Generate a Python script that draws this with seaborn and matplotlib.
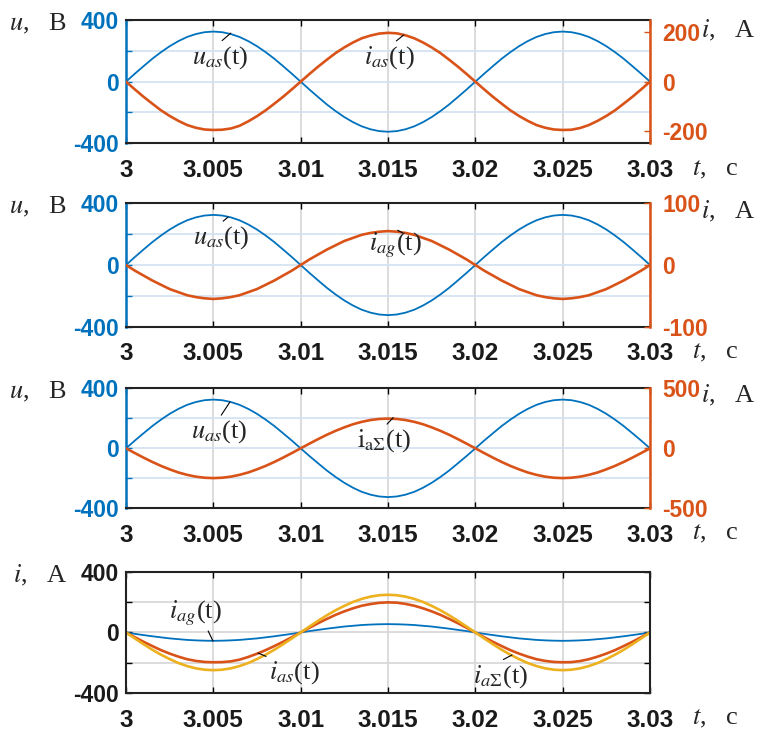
import numpy as np
import matplotlib
matplotlib.use("Agg")
import matplotlib.pyplot as plt
import seaborn as sns

sns.set_style("white")
plt.rcParams['font.family'] = ['Liberation Sans', 'DejaVu Sans']
plt.rcParams['mathtext.fontset'] = 'stix'

# ---------------- data ----------------
t = np.round(np.linspace(3.0, 3.03, 61), 5)

u_as = [0, 51, 100, 148, 191, 230, 263, 290, 309, 321, 325, 321, 309, 290, 263, 230, 191, 148, 100, 51,
        0, -51, -100, -148, -191, -230, -263, -290, -309, -321, -325, -321, -309, -290, -263, -230, -191, -148, -100, -51,
        0, 51, 100, 148, 191, 230, 263, 290, 309, 321, 325, 321, 309, 290, 263, 230, 191, 148, 100, 51, 0]

i_as = [0, -31, -61, -89, -116, -139, -159, -176, -187, -194, -196, -195, -190, -179, -161, -140, -116, -89, -61, -31,
        0, 31, 61, 89, 116, 139, 159, 176, 187, 195, 198, 196, 188, 176, 159, 139, 116, 89, 61, 31,
        0, -31, -61, -89, -116, -139, -159, -176, -187, -194, -196, -195, -188, -176, -159, -139, -116, -89, -61, -31, 0]

i_ag = [0, -9, -17, -25, -32, -39, -44, -49, -52, -54, -55, -54, -52, -49, -44, -39, -32, -25, -17, -9,
        0, 9, 17, 25, 32, 39, 44, 49, 52, 54, 55, 54, 52, 49, 44, 39, 32, 25, 17, 9,
        0, -9, -17, -25, -32, -39, -44, -49, -52, -54, -55, -54, -52, -49, -44, -39, -32, -25, -17, -9, 0]

i_aS = [0, -39, -77, -113, -146, -175, -201, -221, -236, -245, -248, -245, -236, -221, -201, -175, -146, -113, -77, -39,
        0, 39, 77, 113, 146, 175, 201, 221, 236, 245, 248, 245, 236, 221, 201, 175, 146, 113, 77, 39,
        0, -39, -77, -113, -146, -175, -201, -221, -236, -245, -248, -245, -236, -221, -201, -175, -146, -113, -77, -39, 0]

x_ticks = [3.0, 3.005, 3.01, 3.015, 3.02, 3.025, 3.03]
x_tick_labels = ['3', '3.005', '3.01', '3.015', '3.02', '3.025', '3.03']
u_ticks = [-400, -200, 0, 200, 400]
u_tick_labels = ['-400', '', '0', '', '400']

right_limits = [250, 100, 500]
right_ticks = [[-200, 0, 200], [-100, 0, 100], [-500, 0, 500]]
right_series = [i_as, i_ag, i_aS]

BLUE = '#0072BD'
ORANGE = '#D95319'
YELLOW = '#EDB120'
GRID_BLUE = '#d3e4f1'
GRID_GREY = '#d9d9d9'
SERIF = ['Liberation Serif', 'DejaVu Serif']
TICK_DARK = '#1a1a1a'

fig = plt.figure(figsize=(7.59, 7.33), dpi=100)
fig.patch.set_facecolor('white')

positions = [(0.166, 0.8045, 0.6904, 0.1682),
             (0.166, 0.5543, 0.6904, 0.1683),
             (0.166, 0.3065, 0.6904, 0.1637),
             (0.166, 0.0542, 0.6904, 0.1659)]


def style_x(ax):
    ax.set_xlim(3.0, 3.03)
    ax.set_xticks(x_ticks)
    ax.set_xticklabels(x_tick_labels, fontsize=17.5, fontweight='bold')
    ax.tick_params(axis='x', direction='in', top=True, bottom=True, length=4,
                   width=1, pad=11, colors='black', labelcolor=TICK_DARK)
    ax.set_xlabel('')
    ax.text(1.08, -0.215, r'$t$,   c', transform=ax.transAxes, ha='left',
            va='center', fontsize=19, family=SERIF)


def annotate(ax, text, xy, xytext, relpos, ref):
    ax.annotate(text, xy=xy, xytext=xytext, xycoords=ref.transData,
                textcoords=ref.transData, ha='center', va='center',
                fontsize=19, family=SERIF, zorder=10,
                arrowprops=dict(arrowstyle='-', color='black', lw=0.8,
                                shrinkA=0, shrinkB=0, relpos=relpos))


ann_top = [
    [(r'$u_{as}$(t)', (3.006, 315), (3.00538, 158), (0.47, 1.0)),
     (r'$i_{as}$(t)', (3.0159, 303), (3.0151, 156), (0.55, 1.0))],
    [(r'$u_{as}$(t)', (3.00584, 311), (3.00544, 176), (0.47, 1.0)),
     (r'$i_{ag}$(t)', (3.01586, 207), (3.0154, 130), (0.55, 1.0))],
    [(r'$u_{as}$(t)', (3.00595, 309), (3.00533, 110), (0.5, 1.0)),
     (r'$\mathrm{i}_{\mathrm{a}\Sigma}$(t)', (3.0153, 205), (3.01477, 50), (0.5, 1.0))],
]
ia_label_y = [0.86, 0.88, 0.88]

for k in range(3):
    ax1 = fig.add_axes(positions[k])
    sns.lineplot(x=t, y=u_as, ax=ax1, color=BLUE, linewidth=1.3)
    ax1.set_ylim(-400, 400)
    ax1.set_yticks(u_ticks)
    ax1.set_yticklabels(u_tick_labels, fontsize=16.5, fontweight='bold')
    ax1.tick_params(axis='y', direction='in', left=True, right=True, length=4,
                    width=1, colors=BLUE, pad=5)
    ax1.set_ylabel('')
    ax1.grid(axis='y', color=GRID_BLUE, linewidth=1.3)
    ax1.grid(axis='x', color=GRID_GREY, linewidth=1.3)
    style_x(ax1)
    ax1.spines['left'].set_color(BLUE)
    ax1.spines['left'].set_linewidth(1.8)
    ax1.spines['right'].set_visible(False)
    for s in ('top', 'bottom'):
        ax1.spines[s].set_color('#222222')
        ax1.spines[s].set_linewidth(1.5)
    ax1.text(-0.112, 0.915, r'$u$,   B', transform=ax1.transAxes, ha='right',
             va='baseline', fontsize=19, family=SERIF)

    ax2 = ax1.twinx()
    sns.lineplot(x=t, y=right_series[k], ax=ax2, color=ORANGE, linewidth=1.9)
    r = right_limits[k]
    ax2.set_ylim(-r, r)
    ax2.set_yticks(right_ticks[k])
    ax2.set_yticklabels([str(v) for v in right_ticks[k]], fontsize=16.5,
                        fontweight='bold')
    ax2.tick_params(axis='y', direction='in', length=4, width=1,
                    colors=ORANGE, pad=9)
    ax2.set_ylabel('')
    ax2.set_xlim(3.0, 3.03)
    for s in ('left', 'top', 'bottom'):
        ax2.spines[s].set_visible(False)
    ax2.spines['right'].set_color(ORANGE)
    ax2.spines['right'].set_linewidth(1.8)
    ax2.text(1.097, ia_label_y[k], r'$i$,   A', transform=ax2.transAxes,
             ha='left', va='baseline', fontsize=19, family=SERIF)
    for text, xy, xytext, rp in ann_top[k]:
        annotate(ax2, text, xy, xytext, rp, ax1)

# ---------------- bottom panel ----------------
ax4 = fig.add_axes(positions[3])
sns.lineplot(x=t, y=i_ag, ax=ax4, color=BLUE, linewidth=1.3)
sns.lineplot(x=t, y=i_as, ax=ax4, color=ORANGE, linewidth=1.9)
sns.lineplot(x=t, y=i_aS, ax=ax4, color=YELLOW, linewidth=1.9)
ax4.set_ylim(-400, 400)
ax4.set_yticks(u_ticks)
ax4.set_yticklabels(u_tick_labels, fontsize=16.5, fontweight='bold')
ax4.tick_params(axis='y', direction='in', left=True, right=True, length=4,
                width=1, colors='black', labelcolor=TICK_DARK, pad=5)
ax4.set_ylabel('')
ax4.grid(axis='both', color=GRID_GREY, linewidth=1.3)
style_x(ax4)
for s in ax4.spines.values():
    s.set_color('#222222')
    s.set_linewidth(1.5)
ax4.text(-0.112, 0.915, r'$i$,   A', transform=ax4.transAxes, ha='right',
         va='baseline', fontsize=19, family=SERIF)

annotate(ax4, r'$i_{ag}$(t)', (3.00498, -56), (3.00395, 128), (0.72, 0.0), ax4)
annotate(ax4, r'$i_{as}$(t)', (3.00756, -135), (3.00966, -262), (0.05, 1.0), ax4)
annotate(ax4, r'$i_{a\mathit{\Sigma}}$(t)', (3.0221, -148), (3.02147, -288), (0.43, 1.0), ax4)

fig.savefig('out.png', dpi=100, facecolor='white')
